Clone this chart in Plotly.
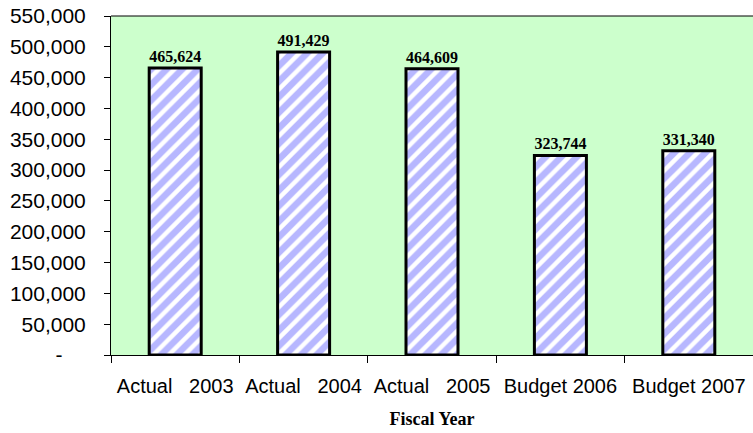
import plotly.graph_objects as go

categories = ["Actual   2003", "Actual   2004", "Actual   2005", "Budget 2006", "Budget 2007"]
values = [465624, 491429, 464609, 323744, 331340]
y_tickvals = [0, 50000, 100000, 150000, 200000, 250000, 300000, 350000, 400000, 450000, 500000, 550000]
y_ticktext = ["-\u00a0\u00a0\u00a0\u00a0", "50,000", "100,000", "150,000", "200,000", "250,000", "300,000",
              "350,000", "400,000", "450,000", "500,000", "550,000"]

fig = go.Figure(go.Bar(
    x=categories, y=values,
    width=0.405,
    marker=dict(color="white",
                line=dict(color="black", width=3),
                pattern=dict(shape="/", fgcolor="#7070FF", bgcolor="white", size=11, solidity=0.6)),
    text=[f"{v:,}" for v in values],
    textposition="outside",
    cliponaxis=False,
    textfont=dict(family="Liberation Serif", size=16, color="black", weight="bold"),
))

fig.update_layout(
    width=753, height=433,
    margin=dict(l=111, r=0, t=16, b=78),
    paper_bgcolor="white",
    plot_bgcolor="#CCFFCC",
    showlegend=False,
    xaxis=dict(
        automargin=False,
        showline=True, linecolor="black", linewidth=1,
        ticks="outside", tickson="boundaries", ticklen=7, tickcolor="black",
        ticklabelstandoff=13,
        tickfont=dict(family="Liberation Sans", size=20, color="black"),
        title=dict(text="Fiscal Year", font=dict(family="Liberation Serif", size=18, color="black", weight="bold"), standoff=16),
    ),
    yaxis=dict(
        automargin=False,
        range=[0, 550000],
        tickvals=y_tickvals, ticktext=y_ticktext,
        showline=True, linecolor="black", linewidth=1,
        ticks="outside", ticklen=6, tickcolor="black",
        ticklabelstandoff=14,
        ticklabeloverflow="allow",
        showgrid=False, zeroline=False,
        tickfont=dict(family="Liberation Sans", size=21, color="black"),
    ),
    shapes=[dict(type="line", xref="paper", yref="paper", x0=0, x1=1, y0=1, y1=1,
                 line=dict(color="black", width=1))],
)

fig.write_html("out.html", config={"displayModeBar": False},
               post_script="document.body.style.margin='0';document.body.style.overflow='hidden';")
